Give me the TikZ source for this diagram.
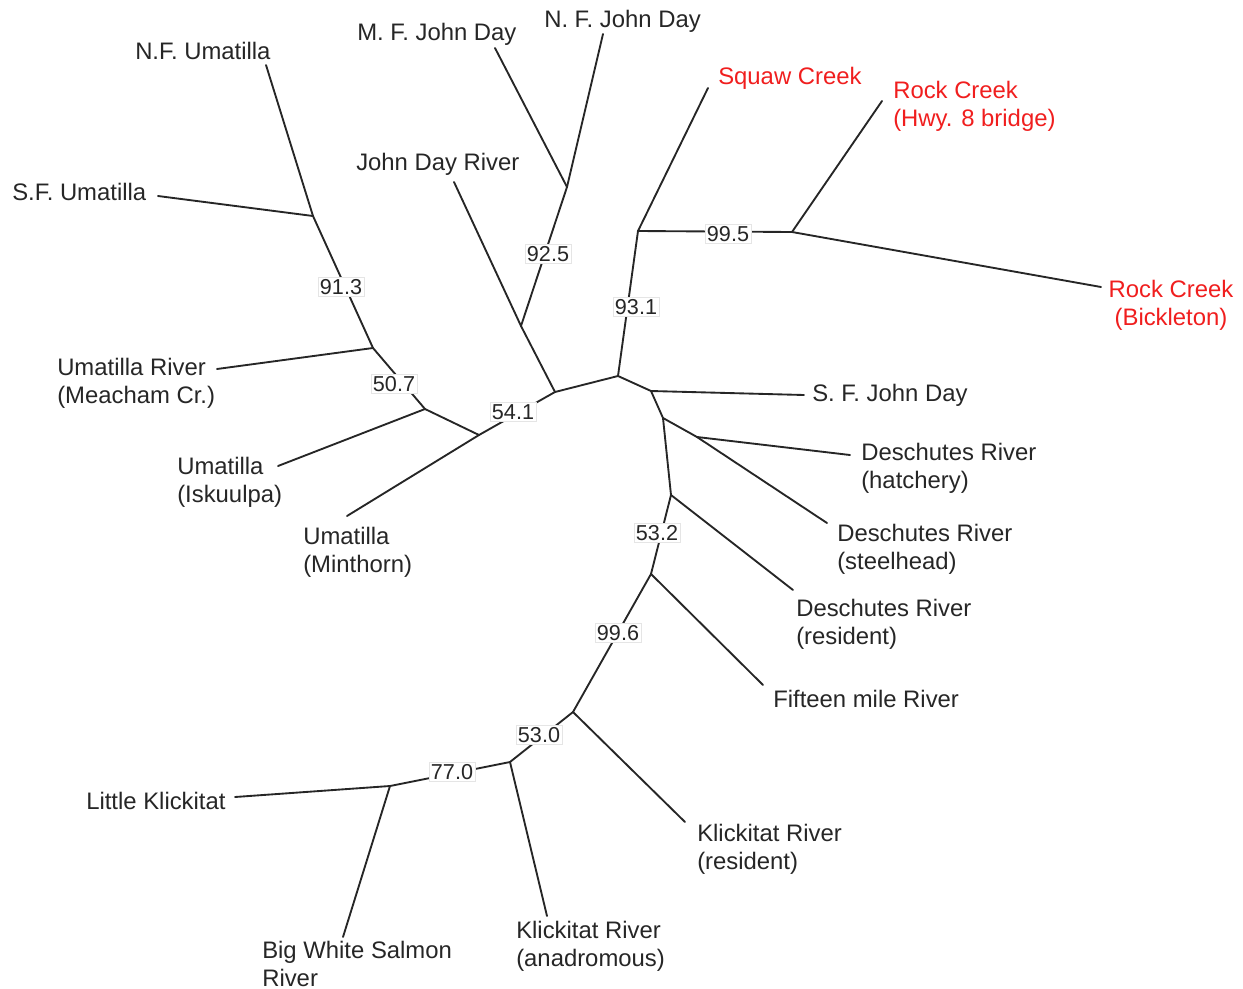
\documentclass[tikz,border=0pt]{standalone}
\usepackage{fontspec}
\setmainfont{Liberation Sans}
\definecolor{tipred}{RGB}{240,30,30}
\begin{document}
\begin{tikzpicture}[x=0.75pt,y=-0.75pt,
  branch/.style={draw=black!85,line width=1.4pt,line cap=round,line join=round},
  tip/.style={inner sep=0pt,anchor=west,align=left,yshift=-1.2pt,font=\fontsize{17.9}{21}\selectfont,text=black!85},
  redtip/.style={tip,text=tipred},
  boot/.style={fill=white,draw=black!10,line width=0.5pt,inner sep=1.6pt,font=\fontsize{16.2}{18}\selectfont,text=black!85}]
\useasboundingbox (0,0) rectangle (1243,989);
% tree points
\coordinate (R)  at (618,376);
\coordinate (J)  at (555,392);
\coordinate (U4) at (479,435);
\coordinate (U3) at (425,409);
\coordinate (U2) at (373,348);
\coordinate (U1) at (313,216);
\coordinate (JD2) at (521,326);
\coordinate (JD3) at (567,187);
\coordinate (S1) at (638,231);
\coordinate (RC) at (792,232);
\coordinate (D1) at (651,391);
\coordinate (D2) at (663,418);
\coordinate (D3) at (697,437);
\coordinate (D4) at (671,495);
\coordinate (D5) at (651,574);
\coordinate (K1) at (573,712);
\coordinate (K2) at (510,762);
\coordinate (K3) at (390,786);
% leaf tips
\coordinate (tNFU) at (266,65);
\coordinate (tSFU) at (158,196);
\coordinate (tMea) at (217,369);
\coordinate (tIsk) at (278,466);
\coordinate (tMin) at (347,516);
\coordinate (tJDR) at (454,182);
\coordinate (tMFJ) at (495,48);
\coordinate (tNFJ) at (603,34);
\coordinate (tSqu) at (708,88);
\coordinate (tHwy) at (882,101);
\coordinate (tBic) at (1101,287);
\coordinate (tSFJ) at (804,395);
\coordinate (tHat) at (850,455);
\coordinate (tSte) at (827,523);
\coordinate (tDRe) at (793,590);
\coordinate (tFif) at (763,685);
\coordinate (tKRe) at (685,822);
\coordinate (tKAn) at (547,916);
\coordinate (tLit) at (235,797);
\coordinate (tBWS) at (343,937);
% branches
\path[branch] (R) -- (J);
\path[branch] (J) -- (U4);
\path[branch] (U4) -- (U3);
\path[branch] (U4) -- (tMin);
\path[branch] (U3) -- (tIsk);
\path[branch] (U3) -- (U2);
\path[branch] (U2) -- (tMea);
\path[branch] (U2) -- (U1);
\path[branch] (U1) -- (tNFU);
\path[branch] (U1) -- (tSFU);
\path[branch] (J) -- (JD2);
\path[branch] (JD2) -- (tJDR);
\path[branch] (JD2) -- (JD3);
\path[branch] (JD3) -- (tMFJ);
\path[branch] (JD3) -- (tNFJ);
\path[branch] (R) -- (S1);
\path[branch] (S1) -- (tSqu);
\path[branch] (S1) -- (RC);
\path[branch] (RC) -- (tHwy);
\path[branch] (RC) -- (tBic);
\path[branch] (R) -- (D1);
\path[branch] (D1) -- (tSFJ);
\path[branch] (D1) -- (D2);
\path[branch] (D2) -- (D3);
\path[branch] (D3) -- (tSte);
\path[branch] (D3) -- (tHat);
\path[branch] (D2) -- (D4);
\path[branch] (D4) -- (tDRe);
\path[branch] (D4) -- (D5);
\path[branch] (D5) -- (tFif);
\path[branch] (D5) -- (K1);
\path[branch] (K1) -- (tKRe);
\path[branch] (K1) -- (K2);
\path[branch] (K2) -- (tKAn);
\path[branch] (K2) -- (K3);
\path[branch] (K3) -- (tLit);
\path[branch] (K3) -- (tBWS);
% bootstrap values
\node[boot] (b913) at (341,287) {91.3};
\node[boot] (b507) at (394,384) {50.7};
\node[boot] (b541) at (513,412) {54.1};
\node[boot] (b925) at (548,254) {92.5};
\node[boot] (b931) at (636,307) {93.1};
\node[boot] (b995) at (728,234) {99.5};
\node[boot] (b532) at (657,533) {53.2};
\node[boot] (b996) at (618,633) {99.6};
\node[boot] (b530) at (539,735) {53.0};
\node[boot] (b770) at (452,772) {77.0};
% leaf labels
\node[tip] (lNFU) at (135,49) {N.F. Umatilla};
\node[tip] (lSFU) at (12,190) {S.F. Umatilla};
\node[tip] (lMFJ) at (357,33) {M. F. John Day};
\node[tip] (lNFJ) at (544,20) {N. F. John Day};
\node[tip] (lJDR) at (356,163) {John Day River};
\node[redtip] (lSqu) at (718,77) {Squaw Creek};
\node[redtip] (lHwy) at (893,105) {Rock Creek\\(Hwy. 8 bridge)};
\node[redtip,anchor=center,align=center] (lBic) at (1171,304) {Rock Creek\\(Bickleton)};
\node[tip] (lMea) at (57,382) {Umatilla River\\(Meacham Cr.)};
\node[tip] (lIsk) at (177,481) {Umatilla\\(Iskuulpa)};
\node[tip] (lMin) at (303,551) {Umatilla\\(Minthorn)};
\node[tip] (lSFJ) at (812,394) {S. F. John Day};
\node[tip] (lHat) at (861,467) {Deschutes River\\(hatchery)};
\node[tip] (lSte) at (837,548) {Deschutes River\\(steelhead)};
\node[tip] (lDRe) at (796,623) {Deschutes River\\(resident)};
\node[tip] (lFif) at (773,697) {Fifteen mile River};
\node[tip] (lKRe) at (697,848) {Klickitat River\\(resident)};
\node[tip] (lLit) at (86,799) {Little Klickitat};
\node[tip] (lBWS) at (262,962) {Big White Salmon\\River};
\node[tip] (lKAn) at (516,945) {Klickitat River\\(anadromous)};
\end{tikzpicture}
\end{document}
